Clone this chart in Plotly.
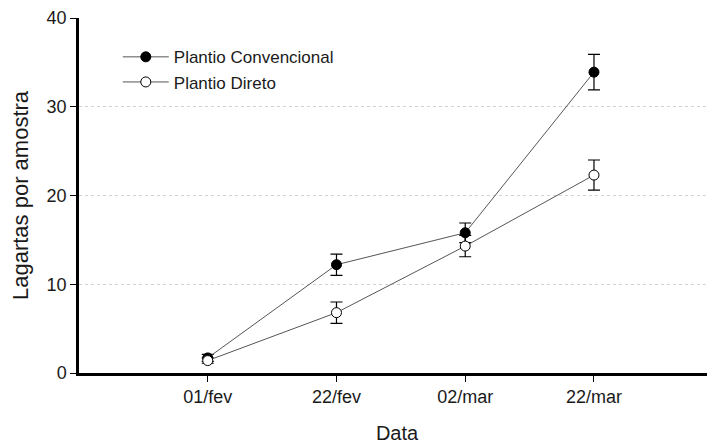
import plotly.graph_objects as go

categories = ["01/fev", "22/fev", "02/mar", "22/mar"]
x_pos = [1, 2, 3, 4]
convencional = [1.7, 12.2, 15.8, 33.9]
convencional_err = [0.4, 1.2, 1.1, 2.0]
direto = [1.4, 6.8, 14.3, 22.3]
direto_err = [0.3, 1.2, 1.2, 1.7]
y_ticks = [0, 10, 20, 30, 40]

font = "Liberation Sans, Arial, sans-serif"

fig = go.Figure()
fig.add_trace(go.Scatter(
    x=x_pos, y=convencional, mode="lines+markers", name="Plantio Convencional",
    line=dict(color="#555555", width=1),
    marker=dict(symbol="circle", size=10, color="black", line=dict(color="black", width=1)),
    error_y=dict(type="data", array=convencional_err, visible=True, color="black", thickness=1.2, width=6),
))
fig.add_trace(go.Scatter(
    x=x_pos, y=direto, mode="lines+markers", name="Plantio Direto",
    line=dict(color="#555555", width=1),
    marker=dict(symbol="circle", size=10, color="white", line=dict(color="black", width=1)),
    error_y=dict(type="data", array=direto_err, visible=True, color="black", thickness=1.2, width=6),
))

fig.update_layout(
    width=707, height=436,
    margin=dict(l=71, r=0, t=10, b=71, autoexpand=False),
    plot_bgcolor="white", paper_bgcolor="white",
    font=dict(family=font, size=18, color="#1a1a1a"),
    showlegend=True,
    legend=dict(x=0.061, y=0.94, xanchor="left", yanchor="top",
                bgcolor="rgba(0,0,0,0)", font=dict(size=17, color="#1a1a1a"),
                itemwidth=46, tracegroupgap=0),
)
fig.update_xaxes(
    range=[0, 4.94], tickmode="array", tickvals=x_pos, ticktext=categories,
    showline=True, linecolor="black", linewidth=2.5,
    ticks="outside", ticklen=6, tickcolor="black", tickwidth=1,
    tickfont=dict(size=18),
    showgrid=False, zeroline=False, automargin=False,
    title=dict(text="Data", font=dict(size=20), standoff=22),
)
fig.update_yaxes(
    range=[0, 40], tickvals=y_ticks,
    showline=True, linecolor="black", linewidth=2.5,
    ticks="outside", ticklen=6, tickcolor="black", tickwidth=1,
    tickfont=dict(size=18),
    showgrid=True, gridcolor="#d2d2d2", griddash="dot", gridwidth=1,
    zeroline=False, automargin=False,
    title=dict(text="Lagartas por amostra", font=dict(size=22), standoff=14),
)

fig.write_html("out.html")
